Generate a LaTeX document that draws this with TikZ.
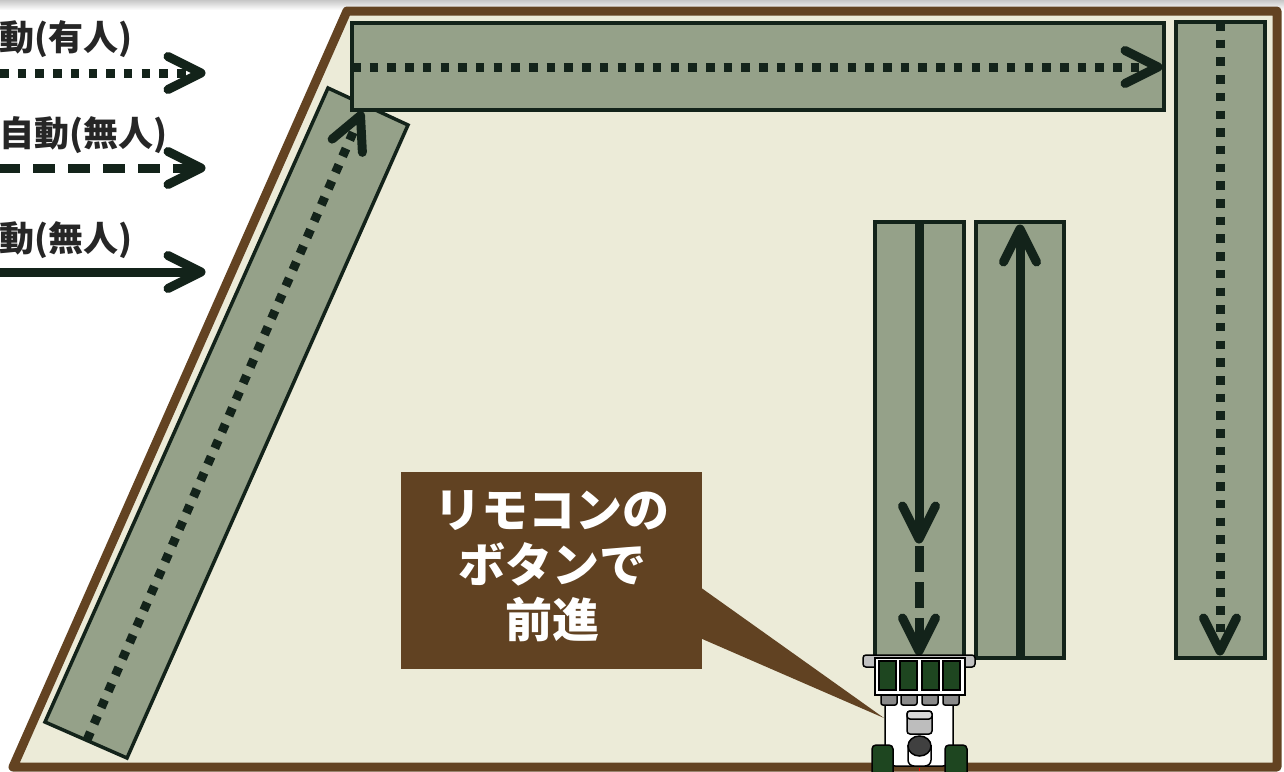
\documentclass[tikz,border=0pt]{standalone}
\usepackage{fontspec}
\newfontfamily\jp{Noto Sans CJK JP}
\definecolor{fieldbg}{HTML}{ECEBD8}
\definecolor{stripfill}{HTML}{95A189}
\definecolor{ink}{HTML}{13231A}
\definecolor{soil}{HTML}{634322}
\definecolor{calloutbg}{HTML}{614222}
\definecolor{legendtext}{HTML}{262626}
\definecolor{leaf}{HTML}{1E4620}
\definecolor{partgrey}{HTML}{8A8A8A}
\definecolor{bargrey}{HTML}{C0C0C0}
\definecolor{seatgrey}{HTML}{BDBDBD}
\definecolor{seattop}{HTML}{D9D9D9}
\definecolor{cabdark}{HTML}{404040}

\begin{document}
\begin{tikzpicture}[x=1pt,y=-1pt,
  strip/.style={fill=stripfill,draw=ink,line width=3.5pt},
  track/.style={draw=ink,line width=9pt},
  dotted track/.style={track,dash pattern=on 8.5pt off 9.2pt},
  dashed track/.style={track,dash pattern=on 22pt off 13pt},
  chevline/.style={draw=ink,line width=9pt,line cap=round,line join=round},
  chev/.pic={\draw[chevline] (-33,-16.5) -- (0,0) -- (-33,16.5);},
  legend/.style={font=\jp\bfseries\fontsize{35}{35}\selectfont,text=legendtext,anchor=east,inner sep=0pt},
  part/.style={draw=black,line width=1.5pt},
]
\useasboundingbox (0,0) rectangle (1284,771);
\fill[white] (0,0) rectangle (1284,771);
\shade[top color=black!22,bottom color=white] (0,0) rectangle (1284,10);

% field
\draw[draw=soil,fill=fieldbg,line width=9pt,line join=round]
  (347,11) -- (1277,11) -- (1277,767) -- (13,767) -- cycle;

% legend
\node[legend] (lgmanual) at (133,39) {動(有人)};
\node[legend] (lgsemi) at (168,135) {自動(無人)};
\node[legend] (lgauto) at (133,240) {動(無人)};
\draw[dotted track] (0,73) -- (201,73);
\pic at (201,73) {chev};
\draw[dashed track,dash phase=2pt] (0,168) -- (201,168);
\pic at (201,168) {chev};
\draw[track] (0,272) -- (201,272);
\pic at (201,272) {chev};

% diagonal headland strip
\draw[strip] (328,88) -- (408,125) -- (127,758) -- (45,722) -- cycle;
\draw[dotted track] (87,740) -- (360.5,115.5);
\pic[rotate=66.35] at (360.5,115.5) {chev};

% top strip
\draw[strip] (352,23) rectangle (1164,110);
\draw[dotted track] (352,67) -- (1158,67);
\pic at (1158,67) {chev};

% right strip
\draw[strip] (1176,22) rectangle (1265,658);
\draw[dotted track] (1220,22) -- (1220,651);
\pic[rotate=-90] at (1220,651) {chev};

% inner strips
\draw[strip] (875,222) rectangle (964,658);
\draw[track] (919,222) -- (919,539);
\pic[rotate=-90] at (919,539) {chev};
\draw[track,dash pattern=on 26pt off 10pt] (919,546) -- (919,651);
\pic[rotate=-90] at (919,651) {chev};

\draw[strip] (976,222) rectangle (1064,658);
\draw[track] (1020,656) -- (1020,229);
\pic[rotate=90] at (1020,229) {chev};

% callout
\fill[calloutbg] (700,587) -- (884,718) -- (700,638) -- cycle;
\fill[calloutbg] (401,472) rectangle (702,669);
\node[font=\jp\bfseries\fontsize{47}{55}\selectfont,text=white,align=center,inner sep=0pt]
  (remote) at (552,566) {リモコンの\\ボタンで\\前進};

% tractor
\draw[part,fill=white,rounded corners=10pt] (885,690) rectangle (953,766);
\foreach \x in {881,901,922,943}
  \draw[part,fill=partgrey,rounded corners=2pt] (\x,693) rectangle (\x+16,705);
\draw[part,fill=bargrey,rounded corners=3pt] (863,655) rectangle (975,667);
\draw[part,fill=white] (875,658) rectangle (965,695);
\foreach \x in {879,900,922,943}
  \draw[part,fill=leaf] (\x,661) rectangle (\x+17,690);
\draw[part,fill=seatgrey,rounded corners=3pt] (907,711) rectangle (932,734);
\draw[part,fill=seattop,rounded corners=3pt] (907,711) rectangle (932,719);
\draw[part,fill=white,rounded corners=6pt] (908,745) -- (908,766) -- (931,766) -- (931,745);
\draw[part,fill=cabdark] (919.5,746) ellipse [x radius=11.5,y radius=10];
\draw[red,line width=1.5pt] (919.5,768) -- (919.5,771);
\draw[part,fill=leaf,rounded corners=4pt] (872,745) rectangle (893,782);
\draw[part,fill=leaf,rounded corners=4pt] (945,745) rectangle (967,782);
\end{tikzpicture}
\end{document}
